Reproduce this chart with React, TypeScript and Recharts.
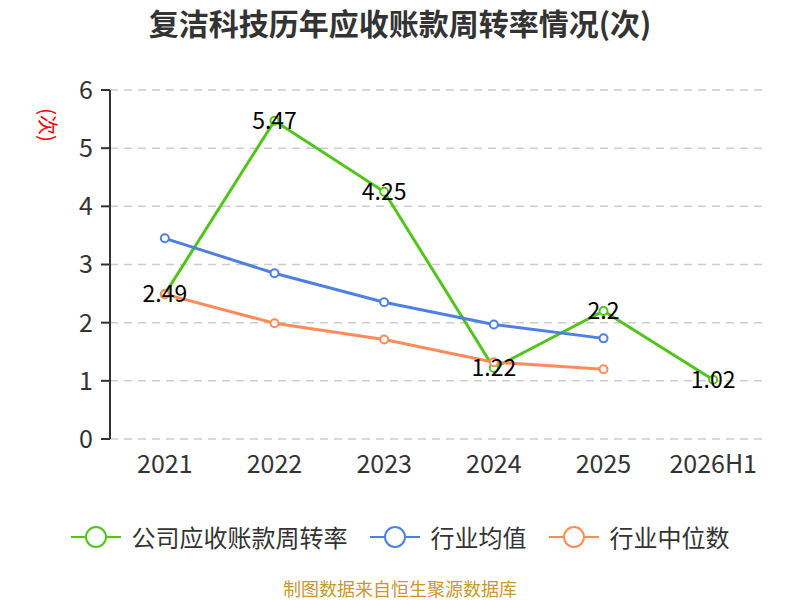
import React from "react";
import { LineChart, Line, XAxis, YAxis, CartesianGrid, LabelList, Legend } from "recharts";

const categories = ["2021", "2022", "2023", "2024", "2025", "2026H1"];
const companyValues = [2.49, 5.47, 4.25, 1.22, 2.2, 1.02];
const industryAvg: (number | null)[] = [3.45, 2.85, 2.35, 1.97, 1.73, null];
const industryMedian: (number | null)[] = [2.49, 1.99, 1.71, 1.32, 1.2, null];
const yTicks = [0, 1, 2, 3, 4, 5, 6];

const GREEN = "#52c41a";
const BLUE = "#4e80e1";
const ORANGE = "#ff8b59";
const FONT = "'Noto Sans CJK SC', 'Noto Sans', sans-serif";

const data = categories.map((c, i) => ({
  x: i + 0.5,
  name: c,
  company: companyValues[i],
  avg: industryAvg[i],
  median: industryMedian[i],
}));

const legendItems = [
  { label: "公司应收账款周转率", color: GREEN },
  { label: "行业均值", color: BLUE },
  { label: "行业中位数", color: ORANGE },
];

const boundaryTicks = categories.map((_, i) => i).concat([categories.length]);
const centerTicks = categories.map((_, i) => i + 0.5);

const LegendContent = () => (
  <div style={{ display: "flex", justifyContent: "center", alignItems: "center", width: 800, fontFamily: FONT }}>
    {legendItems.map((it, idx) => (
      <div key={it.label} style={{ display: "flex", alignItems: "center", marginLeft: idx === 0 ? 0 : 22 }}>
        <svg width={50} height={26} style={{ display: "block" }}>
          <line x1={0} y1={13} x2={50} y2={13} stroke={it.color} strokeWidth={2} />
          <circle cx={25} cy={13} r={10} fill="#fff" stroke={it.color} strokeWidth={2} />
        </svg>
        <span style={{ marginLeft: 11, fontSize: 24, color: "#333", lineHeight: "26px" }}>{it.label}</span>
      </div>
    ))}
  </div>
);

export default function App() {
  return (
    <div style={{ position: "absolute", left: 0, top: 0, width: 800, height: 600, background: "#fff", fontFamily: FONT, overflow: "hidden" }}>
      <div
        style={{
          position: "absolute",
          left: 0,
          top: 2,
          width: 800,
          textAlign: "center",
          fontSize: 30,
          fontWeight: "bold",
          color: "#333",
          lineHeight: "40px",
        }}
      >
        复洁科技历年应收账款周转率情况(次)
      </div>
      <div
        style={{
          position: "absolute",
          left: 48,
          top: 125,
          transform: "translate(-50%, -50%) rotate(90deg)",
          fontSize: 20,
          color: "#ff0000",
          whiteSpace: "nowrap",
          lineHeight: "20px",
        }}
      >
        (次)
      </div>
      <div
        style={{
          position: "absolute",
          left: 0,
          top: 578,
          width: 800,
          textAlign: "center",
          fontSize: 18,
          color: "#c9982f",
          lineHeight: "20px",
        }}
      >
        制图数据来自恒生聚源数据库
      </div>
      <LineChart width={800} height={600} data={data} margin={{ top: 90, right: 32, left: 0, bottom: 121 }}>
        <CartesianGrid
          xAxisId="label"
          yAxisId="y"
          vertical={false}
          stroke="#cccccc"
          strokeDasharray="8 6"
          strokeWidth={1.5}
        />
        <XAxis
          xAxisId="tick"
          type="number"
          dataKey="x"
          domain={[0, categories.length]}
          ticks={boundaryTicks}
          tick={false}
          tickSize={8}
          height={0}
          axisLine={{ stroke: "#333", strokeWidth: 2 }}
          tickLine={{ stroke: "#333", strokeWidth: 2 }}
          interval={0}
          allowDecimals
        />
        <XAxis
          xAxisId="label"
          type="number"
          dataKey="x"
          domain={[0, categories.length]}
          ticks={centerTicks}
          tickFormatter={(v: number) => categories[Math.floor(v)] ?? ""}
          axisLine={false}
          tickLine={false}
          tickSize={0}
          tickMargin={16}
          height={40}
          interval={0}
          tick={{ fill: "#333", fontSize: 25, fontFamily: FONT }}
        />
        <YAxis
          yAxisId="y"
          width={110}
          domain={[0, 6]}
          ticks={yTicks}
          interval={0}
          tickSize={9}
          tickMargin={8}
          axisLine={{ stroke: "#333", strokeWidth: 2 }}
          tickLine={{ stroke: "#333", strokeWidth: 2 }}
          tick={{ fill: "#333", fontSize: 25, fontFamily: FONT }}
        />
        <Legend
          verticalAlign="middle"
          layout="horizontal"
          align="center"
          content={<LegendContent />}
          wrapperStyle={{ position: "absolute", top: 524, left: 0, width: 800 }}
        />
        <Line
          xAxisId="label"
          yAxisId="y"
          dataKey="company"
          stroke={GREEN}
          strokeWidth={3}
          dot={{ r: 4, fill: "#fff", stroke: GREEN, strokeWidth: 2 }}
          activeDot={false}
          isAnimationActive={false}
        />
        <Line
          xAxisId="label"
          yAxisId="y"
          dataKey="avg"
          stroke={BLUE}
          strokeWidth={3}
          dot={{ r: 4, fill: "#fff", stroke: BLUE, strokeWidth: 2 }}
          activeDot={false}
          isAnimationActive={false}
        />
        <Line
          xAxisId="label"
          yAxisId="y"
          dataKey="median"
          stroke={ORANGE}
          strokeWidth={3}
          dot={{ r: 4, fill: "#fff", stroke: ORANGE, strokeWidth: 2 }}
          activeDot={false}
          isAnimationActive={false}
        />
        <Line
          xAxisId="label"
          yAxisId="y"
          dataKey="company"
          stroke="none"
          dot={false}
          activeDot={false}
          legendType="none"
          isAnimationActive={false}
        >
          <LabelList dataKey="company" position="center" fill="#000" fontSize={23} fontFamily={FONT} />
        </Line>
      </LineChart>
    </div>
  );
}
